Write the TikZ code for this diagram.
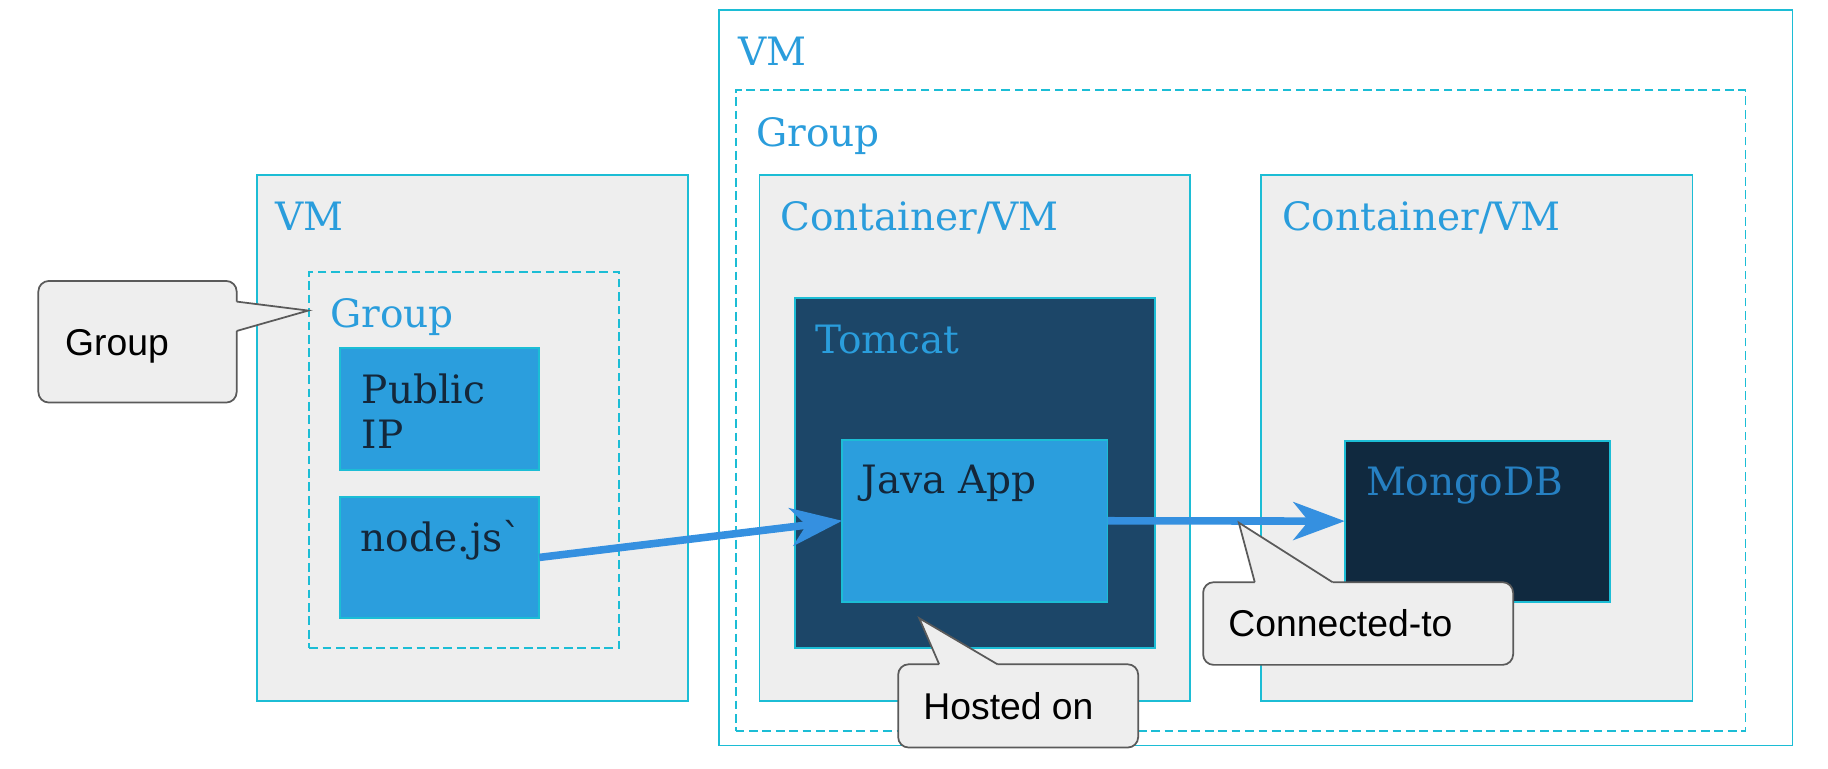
\documentclass[tikz,border=0pt]{standalone}
\usepackage{fontspec}
\setmainfont{DejaVu Serif}[Ligatures=TeXOff]
\newfontfamily\calloutfont{Liberation Sans}
\usetikzlibrary{arrows.meta}
\definecolor{cyanline}{HTML}{1CBDD5}
\definecolor{boxgray}{HTML}{EEEEEE}
\definecolor{appblue}{HTML}{2B9EDD}
\definecolor{tomcatblue}{HTML}{1C4668}
\definecolor{mongoblue}{HTML}{10293F}
\definecolor{labelblue}{HTML}{2A9DDC}
\definecolor{mongotext}{HTML}{2680C2}
\definecolor{darktext}{HTML}{14273A}
\definecolor{arrowblue}{HTML}{3590E0}
\definecolor{calloutline}{HTML}{5A5A5A}
\newcommand\lblfont{\fontsize{33.5}{38.6}\selectfont}
\newcommand\cofont{\calloutfont\fontsize{32}{37}\selectfont}
\begin{document}
\begin{tikzpicture}[x=1pt,y=-1pt,
  box/.style={rectangle,anchor=north west,inner sep=0pt,outer sep=0pt,draw=cyanline,line width=1.6pt},
  vmbox/.style={box,fill=boxgray},
  vmwhite/.style={box,fill=white},
  grpbox/.style={box,dash pattern=on 7.5pt off 4pt},
  appbox/.style={box,fill=appblue},
  tcbox/.style={box,fill=tomcatblue},
  mgbox/.style={box,fill=mongoblue},
  lbl/.style={anchor=base west,inner sep=0pt,text=labelblue,font=\lblfont},
  dlbl/.style={lbl,text=darktext},
  flow/.style={draw=arrowblue,line width=6.5pt,-{Stealth[length=44pt,width=32.4pt,inset=13pt]}},
  callout/.style={rectangle,anchor=north west,inner sep=0pt,outer sep=0pt,draw=calloutline,fill=boxgray,line width=1.5pt,rounded corners=9pt},
  cotext/.style={anchor=base west,inner sep=0pt,text=black,font=\cofont},
  ptrfill/.style={fill=boxgray},
  ptrline/.style={draw=calloutline,line width=1.5pt,line join=miter}
]
\useasboundingbox (0,0) rectangle (1568,658.8);

% ---------- left VM ----------
\node[vmbox,minimum width=369.7pt,minimum height=451pt] (lvm) at (220.1,150) {};
\node[lbl] (lvmlbl) at (236,197.7) {VM};
\node[grpbox,minimum width=265.6pt,minimum height=323pt] (lgrp) at (265.3,233) {};
\node[lbl] (lgrplbl) at (283,281) {Group};
\node[appbox,minimum width=170.9pt,minimum height=104.4pt] (pubip) at (291.6,298.7) {};
\node[dlbl,align=left] (pubiplbl) at (310.2,385.1) {Public\\IP};
\node[appbox,minimum width=170.9pt,minimum height=104.3pt] (nodejs) at (291.6,426) {};
\node[dlbl] (nodejslbl) at (309.3,473.1) {node.js`};

% ---------- right VM ----------
\node[vmwhite,minimum width=920.5pt,minimum height=630.8pt] (rvm) at (617,8.7) {};
\node[lbl] (rvmlbl) at (633,56.3) {VM};
\node[grpbox,minimum width=866.2pt,minimum height=549.8pt] (rgrp) at (631,77.2) {};
\node[lbl] (rgrplbl) at (648.4,125.8) {Group};

\node[vmbox,minimum width=369.5pt,minimum height=451.2pt] (cont1) at (651.5,149.8) {};
\node[lbl] (cont1lbl) at (669,197.3) {Container/VM};
\node[tcbox,minimum width=308.8pt,minimum height=300.1pt] (tomcat) at (681.8,255.9) {};
\node[lbl] (tomcatlbl) at (699,303) {Tomcat};
\node[appbox,minimum width=227.6pt,minimum height=138.6pt] (java) at (722.4,377.4) {};
\node[dlbl] (javalbl) at (739,423) {Java App};

\node[vmbox,minimum width=369.7pt,minimum height=451.2pt] (cont2) at (1082,149.8) {};
\node[lbl] (cont2lbl) at (1099.5,197.3) {Container/VM};
\node[mgbox,minimum width=227.3pt,minimum height=138pt] (mongo) at (1153.5,378) {};
\node[lbl,text=mongotext] (mongolbl) at (1171.5,425.4) {MongoDB};

% ---------- connectors ----------
\draw[flow] (nodejs.east) -- (java.west);
\draw[flow] (java.east) -- (mongo.west);

% ---------- callouts ----------
\node[callout,minimum width=170.1pt,minimum height=104.3pt] (cogroup) at (32.9,241) {};
\node[cotext] (cogrouptxt) at (55.7,305.3) {Group};
\coordinate (gtip) at (264.4,266.4);
\fill[ptrfill] (201,258.7) -- (203,258.7) -- (gtip) -- (203,283.9) -- (201,283.9) -- cycle;
\draw[ptrline] (203,258.7) -- (gtip) -- (203,283.9);

\node[callout,minimum width=205.9pt,minimum height=71.4pt] (cohost) at (770.4,569.8) {};
\node[cotext] (cohosttxt) at (791.9,617.5) {Hosted on};
\coordinate (htip) at (788.5,530.3);
\fill[ptrfill] (805.6,571.8) -- (805.6,569.8) -- (htip) -- (855.6,569.8) -- (855.6,571.8) -- cycle;
\draw[ptrline] (805.6,569.8) -- (htip) -- (855.6,569.8);

\node[callout,minimum width=265.9pt,minimum height=70.9pt] (coconn) at (1032,499.4) {};
\node[cotext] (coconntxt) at (1053.5,546) {Connected-to};
\coordinate (ctip) at (1062.6,448.3);
\fill[ptrfill] (1076.3,501.4) -- (1076.3,499.4) -- (ctip) -- (1143,499.4) -- (1143,501.4) -- cycle;
\draw[ptrline] (1076.3,499.4) -- (ctip) -- (1143,499.4);
\end{tikzpicture}
\end{document}
